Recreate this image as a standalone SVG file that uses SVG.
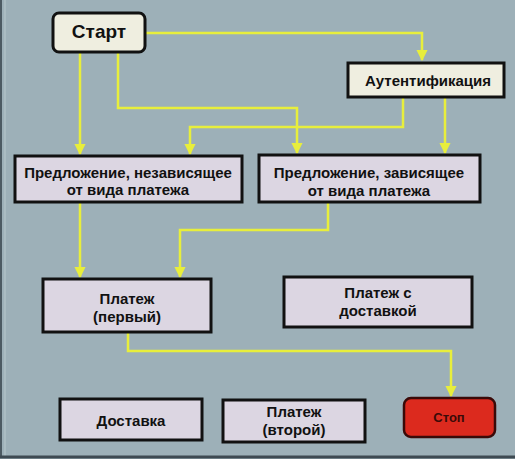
<svg xmlns="http://www.w3.org/2000/svg" width="515" height="459" viewBox="0 0 515 459">
<defs>
<style>
.bg{fill:#9db0b8}
.box{fill:#dcd6e2;stroke:#111;stroke-width:3}
.light{fill:#efeee0;stroke:#111;stroke-width:3}
.stop{fill:#dc2a1e;stroke:#3a0a08;stroke-width:2.5}
.t{font-family:"Liberation Sans",Arial,sans-serif;font-weight:bold;font-size:15px;fill:#111;text-anchor:middle}
.c{fill:none;stroke:#e8ee3c;stroke-width:2.5;marker-end:url(#ah)}
</style>
<marker id="ah" viewBox="0 0 10 10" refX="9" refY="5" markerWidth="4.5" markerHeight="4.5" orient="auto" markerUnits="strokeWidth">
<path d="M0,0 L10,5 L0,10 z" fill="#e8ee3c"/>
</marker>
</defs>
<rect class="bg" x="0" y="0" width="515" height="459"/>
<line x1="1" y1="0" x2="1" y2="456" stroke="#4c5a62" stroke-width="2"/>
<line x1="5" y1="0" x2="5" y2="456" stroke="#b8c8cc" stroke-width="1"/>
<line x1="0" y1="457" x2="515" y2="457" stroke="#3e4a52" stroke-width="3"/>
<g id="connectors">
<path class="c" d="M145,33 H422 V60"/>
<path class="c" d="M80,52 V154"/>
<path class="c" d="M118,52 V108 H297 V153"/>
<path class="c" d="M403,97 V127 H190 V154"/>
<path class="c" d="M445,97 V153"/>
<path class="c" d="M80,202 V277"/>
<path class="c" d="M328,202 V230 H180 V277"/>
<path class="c" d="M128,332 V351 H451 V396"/>
</g>
<g id="start">
<rect class="light" x="53" y="13" width="92" height="39" rx="6"/>
<text class="t" x="99" y="38" style="font-size:19px">Старт</text>
</g>
<g id="auth">
<rect class="light" x="348" y="63" width="156" height="34"/>
<text class="t" x="428" y="86">Аутентификация</text>
</g>
<g id="offer-indep">
<rect class="box" x="15" y="156" width="227" height="46"/>
<text class="t" x="128" y="178">Предложение, независящее</text>
<text class="t" x="128" y="195">от вида платежа</text>
</g>
<g id="offer-dep">
<rect class="box" x="259" y="155" width="221" height="47"/>
<text class="t" x="369" y="178">Предложение, зависящее</text>
<text class="t" x="369" y="196">от вида платежа</text>
</g>
<g id="pay1">
<rect class="box" x="43" y="279" width="168" height="53"/>
<text class="t" x="127" y="304">Платеж</text>
<text class="t" x="127" y="322">(первый)</text>
</g>
<g id="pay-deliv">
<rect class="box" x="284" y="277" width="188" height="50"/>
<text class="t" x="378" y="298">Платеж с</text>
<text class="t" x="378" y="316">доставкой</text>
</g>
<g id="deliv">
<rect class="box" x="60" y="399" width="142" height="41"/>
<text class="t" x="131" y="426">Доставка</text>
</g>
<g id="pay2">
<rect class="box" x="223" y="400" width="142" height="42"/>
<text class="t" x="294" y="417">Платеж</text>
<text class="t" x="294" y="435">(второй)</text>
</g>
<g id="stop">
<rect class="stop" x="404" y="398" width="91" height="39" rx="7"/>
<text class="t" x="449" y="422" style="font-size:13px;fill:#3a0a08">Стоп</text>
</g>
</svg>
